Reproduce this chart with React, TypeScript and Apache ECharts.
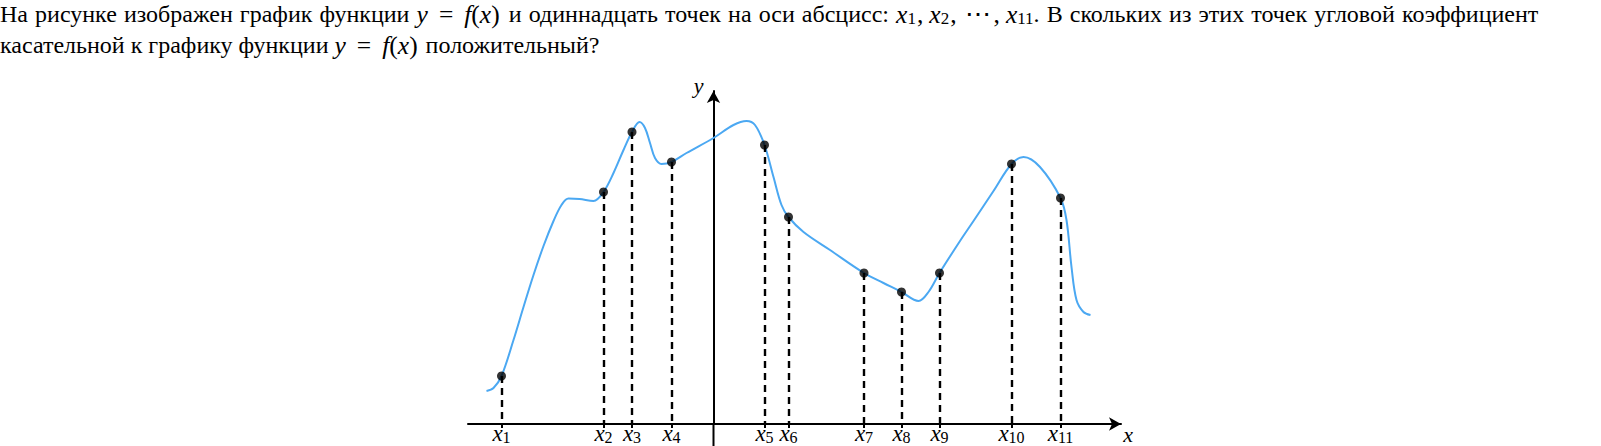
import React, { useEffect, useRef } from "react";
import * as echarts from "echarts";

// Marked points x1..x11 (data units: 1 unit = 10 px in the reference)
const pointX = [-21.2, -11.0, -8.15, -4.2, 5.1, 7.5, 15.05, 18.8, 22.6, 29.8, 34.7];
const pointY = [4.8, 23.2, 29.2, 26.2, 27.9, 20.7, 15.1, 13.2, 15.1, 26.0, 22.6];
const pointLabels = ["1", "2", "3", "4", "5", "6", "7", "8", "9", "10", "11"];

// Curve y = f(x)
const curveX = [
  -22.7, -22.0, -21.2, -20.0, -19.0, -18.0, -17.0, -16.0, -15.2, -14.5, -13.4, -12.0,
  -11.0, -10.0, -9.0, -8.15, -7.4, -6.85, -6.35, -5.85, -5.2, -4.2, -2.7, 0, 2.0,
  3.3, 4.15, 5.1, 6.0, 6.8, 7.5, 9.0, 11.65, 15.05, 17.0, 18.8, 20.5, 21.5, 22.6,
  24.65, 26.0, 28.0, 29.8, 31.0, 32.65, 34.7, 35.3, 35.8, 36.3, 37.0, 37.7,
];
const curveY = [
  3.3, 3.6, 4.8, 8.4, 11.7, 14.9, 17.8, 20.3, 21.9, 22.55, 22.5, 22.3,
  23.2, 25.1, 27.4, 29.2, 30.2, 29.6, 28.1, 26.6, 26.0, 26.2, 27.1, 28.6, 29.9,
  30.3, 29.9, 27.9, 24.7, 21.9, 20.7, 19.2, 17.4, 15.1, 14.1, 13.2, 12.3, 13.2, 15.1,
  18.3, 20.3, 23.3, 26.0, 26.7, 25.7, 22.6, 20.4, 15.7, 12.4, 11.2, 10.9,
];

// Title pieces (plain words / math), line 1 is justified in the reference
const formulaYF = "{m|y}{e|=}{m|f}{p|(}{m|x}{pr|)}";
const formulaList = "{m|x}{s|1}{c|,}{m|x}{s|2}{c|,}{d|⋯}{c|,}{m|x}{s|11}";
const line1Words = [
  "На", "рисунке", "изображен", "график", "функции", formulaYF, "и", "одиннадцать",
  "точек", "на", "оси", "абсцисс:", formulaList + ".", "В", "скольких", "из", "этих",
  "точек", "угловой", "коэффициент",
];
const line2Words = ["касательной", "к", "графику", "функции", formulaYF, "положительный?"];

const SERIF = "'Liberation Serif', 'Times New Roman', serif";
const TFS = 24;
const MFS = 25.5;

export default function App() {
  const ref = useRef<HTMLDivElement>(null);

  useEffect(() => {
    if (!ref.current) return;
    const chart = echarts.init(ref.current, null, { renderer: "svg" });

    const base = { fontFamily: SERIF, lineHeight: 16, color: "#000" };
    const titleRich = {
      m: { ...base, fontStyle: "italic", fontSize: MFS },
      e: { ...base, fontSize: MFS, padding: [0, 11, 0, 11] },
      p: { ...base, fontSize: MFS },
      pr: { ...base, fontSize: MFS, padding: [0, 2, 0, 0] },
      c: { ...base, fontSize: MFS, padding: [0, 6, 0, 1] },
      d: { ...base, fontSize: MFS, padding: [0, 2, 0, 2] },
      s: { ...base, fontSize: 17, padding: [9, 0, 0, 0] },
      w: { ...base, fontSize: TFS, padding: [0, 1.1, 0, 0] },
    };
    const titleLine1 = line1Words.join("{w| }");
    const titleLine2 = line2Words.join(" ");

    const curveData = curveX.map((x, i) => [x, curveY[i]]);
    const pointData = pointX.map((x, i) => [x, pointY[i]]);

    const titleGraphics = [
      {
        type: "text",
        x: 0,
        y: 2,
        style: { text: titleLine1, fontFamily: SERIF, fontSize: TFS, fill: "#000", rich: titleRich, verticalAlign: "top" },
      },
      {
        type: "text",
        x: 0,
        y: 33,
        style: { text: titleLine2, fontFamily: SERIF, fontSize: TFS, fill: "#000", rich: titleRich, verticalAlign: "top" },
      },
    ];

    chart.setOption({
      animation: false,
      backgroundColor: "#fff",
      grid: {
        left: 468,
        right: 480,
        top: 91,
        bottom: 22,
        containLabel: false,
        outerBoundsMode: "none",
      },
      xAxis: {
        type: "value",
        min: -24.55,
        max: 40.75,
        splitLine: { show: false },
        axisLine: {
          onZero: true,
          symbol: ["none", "arrow"],
          symbolSize: [10, 12],
          lineStyle: { color: "#000", width: 2 },
        },
        axisTick: {
          show: true,
          customValues: pointX,
          length: 4,
          lineStyle: { color: "#000", width: 2 },
        },
        axisLabel: {
          show: true,
          customValues: pointX,
          margin: 3,
          hideOverlap: false,
          formatter: (v: number) => {
            const i = pointX.findIndex((p) => Math.abs(p - v) < 1e-6);
            return i >= 0 ? `{m|x}{s|${pointLabels[i]}}` : "";
          },
          rich: {
            m: { fontFamily: SERIF, fontStyle: "italic", fontSize: 23, lineHeight: 18, color: "#000", padding: [0, 0, 6, 0] },
            s: { fontFamily: SERIF, fontSize: 16, lineHeight: 14, color: "#000", verticalAlign: "bottom" },
          },
        },
        name: "x",
        nameLocation: "end",
        nameGap: 7,
        nameTextStyle: {
          fontFamily: SERIF,
          fontStyle: "italic",
          fontSize: 22,
          color: "#000",
          align: "center",
          verticalAlign: "top",
          lineHeight: 18,
          padding: [1, 0, 0, 0],
        },
      },
      yAxis: {
        type: "value",
        min: 0,
        max: 33.3,
        splitLine: { show: false },
        axisTick: { show: false },
        axisLabel: { show: false },
        axisLine: {
          onZero: true,
          symbol: ["none", "arrow"],
          symbolSize: [10, 12],
          lineStyle: { color: "#000", width: 2 },
        },
        name: "y",
        nameLocation: "end",
        nameGap: 6,
        nameTextStyle: {
          fontFamily: SERIF,
          fontStyle: "italic",
          fontSize: 22,
          color: "#000",
          align: "right",
          verticalAlign: "middle",
          padding: [0, 10, 0, 0],
        },
      },
      series: [
        {
          type: "line",
          data: curveData,
          smooth: 0.35,
          showSymbol: false,
          lineStyle: { color: "#4ba8f2", width: 2 },
          silent: true,
          z: 2,
        },
        {
          type: "scatter",
          data: pointData,
          symbol: "circle",
          symbolSize: 9,
          itemStyle: { color: "#000" },
          silent: true,
          z: 3,
          markLine: {
            silent: true,
            symbol: ["none", "none"],
            label: { show: false },
            lineStyle: { color: "#000", width: 2.4, type: [7, 5] },
            data: pointData.map((p) => [
              { coord: [p[0], p[1]] },
              { coord: [p[0], 0] },
            ]),
          },
        },
      ],
      graphic: titleGraphics,
    });

    // y-axis continues below the x-axis to the bottom of the page
    const origin = chart.convertToPixel({ gridIndex: 0 }, [0, 0]) as number[];
    chart.setOption({
      graphic: [
        ...titleGraphics,
        {
          type: "line",
          silent: true,
          shape: { x1: origin[0], y1: origin[1], x2: origin[0], y2: 446 },
          style: { stroke: "#000", lineWidth: 2 },
        },
      ],
    });

    return () => chart.dispose();
  }, []);

  return (
    <div
      ref={ref}
      style={{ position: "fixed", left: 0, top: 0, width: 1601, height: 446, background: "#fff" }}
    />
  );
}
